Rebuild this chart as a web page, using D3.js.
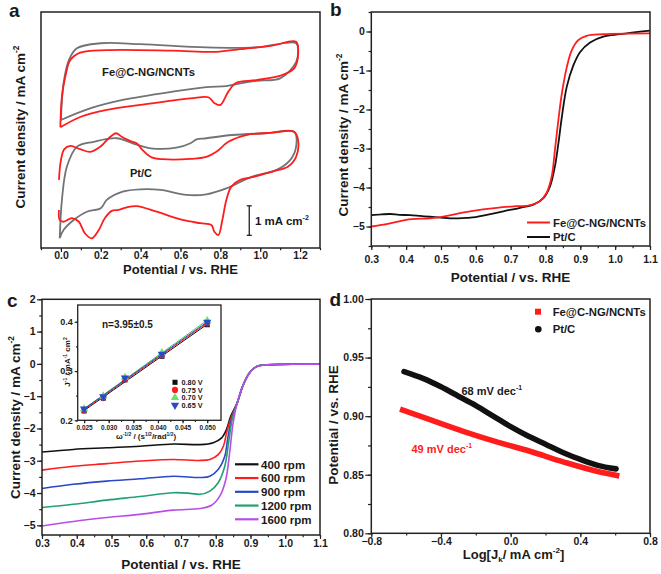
<!DOCTYPE html>
<html><head><meta charset="utf-8">
<script src="https://cdn.jsdelivr.net/npm/d3@7"></script>
<style>
body{margin:0;background:#fff}
text{font-family:"Liberation Sans",Arial,Helvetica,sans-serif;font-weight:bold;fill:#1a1a1a}
</style>
</head><body><script>
// ---------- Panel a: CV curves (potential V, current mA cm-2, arbitrary offset) ----------
const aFeRed = [[-0.003,4.09],[0.005,5.13],[0.022,5.81],[0.047,6.37],[0.097,6.62],[0.23,6.71],[0.56,6.69],[0.78,6.65],[0.90,6.74],[1.06,6.86],[1.18,6.99],[1.19,6.54],[1.17,6.09],[1.11,5.86],[0.98,5.69],[0.88,5.60],[0.84,5.30],[0.80,4.85],[0.77,4.91],[0.74,5.11],[0.65,5.07],[0.40,4.85],[0.23,4.68],[0.10,4.45],[-0.003,4.09]];
const aFeGray = [[0.0,4.34],[0.013,5.58],[0.04,6.37],[0.08,6.77],[0.20,6.94],[0.40,6.91],[0.73,6.80],[0.98,6.80],[1.18,6.94],[1.19,6.71],[1.18,6.30],[1.10,5.75],[0.98,5.67],[0.90,5.58],[0.83,5.49],[0.73,5.45],[0.56,5.30],[0.31,5.02],[0.15,4.74],[0.0,4.34]];
const aPtRed = [[-0.01,2.31],[0.0,2.98],[0.017,3.35],[0.047,3.46],[0.097,3.35],[0.147,3.26],[0.197,3.43],[0.24,3.72],[0.277,3.89],[0.305,3.77],[0.347,3.63],[0.38,3.55],[0.41,3.32],[0.455,3.07],[0.51,3.01],[0.65,3.02],[0.73,3.09],[0.78,3.26],[0.84,3.60],[0.93,3.83],[1.06,3.91],[1.17,3.94],[1.19,3.66],[1.18,3.09],[1.14,2.76],[1.06,2.59],[0.96,2.40],[0.90,2.31],[0.855,2.08],[0.83,1.63],[0.81,0.95],[0.79,0.44],[0.77,0.55],[0.755,0.78],[0.70,0.84],[0.61,0.95],[0.48,1.23],[0.38,1.42],[0.33,1.38],[0.29,1.29],[0.255,1.26],[0.22,1.01],[0.19,0.61],[0.155,0.33],[0.12,0.50],[0.09,0.89],[0.055,1.01],[0.013,0.89],[-0.006,0.95],[-0.01,1.29]];
const aPtGray = [[-0.006,0.33],[0.005,1.63],[0.03,2.76],[0.08,3.43],[0.164,3.60],[0.28,3.72],[0.36,3.55],[0.45,3.38],[0.58,3.40],[0.65,3.55],[0.68,3.68],[0.73,3.72],[0.86,3.83],[1.03,3.89],[1.17,3.94],[1.18,3.43],[1.15,2.98],[1.08,2.64],[0.96,2.42],[0.83,2.02],[0.73,1.82],[0.63,1.80],[0.50,1.97],[0.40,1.99],[0.31,1.91],[0.23,1.63],[0.20,1.35],[0.13,1.23],[0.064,0.95],[0.013,0.61],[-0.006,0.33]];
const aXTicks = [0.0,0.2,0.4,0.6,0.8,1.0,1.2];
const aScaleBar = {x:0.945, y0:0.43, y1:1.43};

// ---------- Panel b: LSV ----------
const bFe = [[0.3,-5.0],[0.344,-4.94],[0.40,-4.83],[0.488,-4.77],[0.583,-4.61],[0.66,-4.52],[0.717,-4.48],[0.755,-4.46],[0.784,-4.35],[0.803,-4.14],[0.818,-3.71],[0.827,-3.04],[0.837,-2.27],[0.847,-1.59],[0.861,-0.92],[0.875,-0.49],[0.894,-0.22],[0.918,-0.11],[0.966,-0.07],[1.1,-0.05]];
const bPt = [[0.3,-4.71],[0.33,-4.69],[0.354,-4.68],[0.38,-4.70],[0.411,-4.71],[0.44,-4.73],[0.468,-4.75],[0.50,-4.77],[0.526,-4.79],[0.55,-4.79],[0.574,-4.78],[0.60,-4.76],[0.621,-4.72],[0.679,-4.61],[0.727,-4.52],[0.765,-4.44],[0.794,-4.27],[0.813,-3.97],[0.827,-3.46],[0.837,-2.87],[0.847,-2.19],[0.861,-1.42],[0.88,-0.87],[0.899,-0.53],[0.928,-0.28],[0.966,-0.13],[1.014,-0.07],[1.1,0.02]];
const bXTicks = [0.3,0.4,0.5,0.6,0.7,0.8,0.9,1.0,1.1];
const bYTicks = [0,-1,-2,-3,-4,-5];

// ---------- Panel c: LSV at rotation rates ----------
const cRpm = ["400 rpm","600 rpm","900 rpm","1200 rpm","1600 rpm"];
const cTail = [[0.862,-1.20],[0.879,-0.65],[0.899,-0.25],[0.918,-0.08],[0.947,-0.03],[1.042,-0.01],[1.1,-0.01]];
const c400 = [[0.3,-2.73],[0.39,-2.65],[0.486,-2.60],[0.582,-2.55],[0.678,-2.48],[0.755,-2.50],[0.793,-2.44],[0.817,-2.29],[0.831,-2.03],[0.843,-1.62]];
const c600 = [[0.3,-3.29],[0.39,-3.17],[0.486,-3.09],[0.582,-3.01],[0.678,-2.96],[0.755,-2.99],[0.783,-2.96],[0.807,-2.81],[0.822,-2.55],[0.831,-2.14],[0.843,-1.70]];
const c900 = [[0.3,-3.86],[0.39,-3.73],[0.486,-3.63],[0.582,-3.56],[0.678,-3.48],[0.755,-3.52],[0.783,-3.48],[0.807,-3.27],[0.826,-2.86],[0.834,-2.34],[0.845,-1.73]];
const c1200 = [[0.3,-4.45],[0.39,-4.35],[0.486,-4.22],[0.582,-4.11],[0.678,-3.99],[0.726,-4.01],[0.755,-4.04],[0.783,-3.94],[0.807,-3.68],[0.826,-3.17],[0.837,-2.44],[0.847,-1.73]];
const c1600 = [[0.3,-5.02],[0.39,-4.88],[0.486,-4.76],[0.582,-4.66],[0.678,-4.53],[0.755,-4.48],[0.788,-4.38],[0.812,-4.09],[0.829,-3.58],[0.840,-2.75],[0.850,-1.83]];
const cYTicks = [2,1,0,-1,-2,-3,-4,-5];

// ---------- Panel c inset: K-L plot ----------
const klX = [0.025,0.0289,0.0333,0.0408,0.050];
const kl080 = [0.219,0.245,0.282,0.330,0.394];
const kl075 = [0.221,0.247,0.284,0.332,0.397];
const kl070 = [0.223,0.249,0.287,0.337,0.402];
const kl065 = [0.223,0.248,0.286,0.334,0.399];
const klLabels = ["0.80 V","0.75 V","0.70 V","0.65 V"];
const klXTicks = [0.025,0.030,0.035,0.040,0.045,0.050];
const klYTicks = [0.2,0.3,0.4];

// ---------- Panel d: Tafel ----------
const dFe = [[-0.635,0.906],[-0.463,0.897],[-0.272,0.887],[-0.08,0.878],[0.111,0.870],[0.302,0.861],[0.494,0.853],[0.624,0.849]];
const dPt = [[-0.612,0.938],[-0.5,0.932],[-0.4,0.925],[-0.3,0.917],[-0.2,0.909],[-0.1,0.900],[0.0,0.891],[0.1,0.883],[0.2,0.876],[0.3,0.869],[0.4,0.863],[0.5,0.858],[0.605,0.855]];
const dXTicks = [-0.8,-0.4,0.0,0.4,0.8];
const dYTicks = [0.80,0.85,0.90,0.95,1.00];

// ================= drawing =================
const RED="#ff1c1c", GRAY="#6f7477", BLK="#111", BLUE="#2a48c8", GREEN="#22a070", VIOL="#b84ee8";
const svg = d3.select("body").append("svg").attr("width",661).attr("height",574);

function panel(xr, yr, xd, yd){
  return {x:d3.scaleLinear().domain(xd).range(xr), y:d3.scaleLinear().domain(yd).range(yr)};
}
function frame(p, sw){
  const [x0,x1]=p.x.range(), [y1,y0]=p.y.range();
  svg.append("rect").attr("x",x0).attr("y",y0).attr("width",x1-x0).attr("height",y1-y0)
    .attr("fill","none").attr("stroke","#222").attr("stroke-width",sw||1.5);
}
function styleAxis(g, fs){
  g.select(".domain").remove();
  g.attr("font-family",null).attr("font-size",null);
  g.selectAll("line").attr("stroke","#222").attr("stroke-width",1.2);
  g.selectAll("text").attr("font-size",fs).attr("fill","#1a1a1a");
}
function xAxis(p, major, minor, fmt, fs, len, pad){
  const yb = p.y.range()[0];
  styleAxis(svg.append("g").attr("transform",`translate(0,${yb})`)
    .call(d3.axisBottom(p.x).tickValues(minor).tickSize(len*0.55).tickFormat("")), fs);
  styleAxis(svg.append("g").attr("transform",`translate(0,${yb})`)
    .call(d3.axisBottom(p.x).tickValues(major).tickSize(len).tickPadding(pad).tickFormat(fmt)), fs);
}
function yAxis(p, major, minor, fmt, fs, len, pad){
  const xl = p.x.range()[0];
  styleAxis(svg.append("g").attr("transform",`translate(${xl},0)`)
    .call(d3.axisLeft(p.y).tickValues(minor).tickSize(len*0.55).tickFormat("")), fs);
  styleAxis(svg.append("g").attr("transform",`translate(${xl},0)`)
    .call(d3.axisLeft(p.y).tickValues(major).tickSize(len).tickPadding(pad).tickFormat(fmt)), fs);
}
function rich(x, y, parts, fs, opts){
  opts = opts||{};
  const t = svg.append("text").attr("x",x).attr("y",y).attr("font-size",fs)
    .attr("text-anchor",opts.anchor||"middle");
  if(opts.rotate) t.attr("transform",`rotate(-90,${x},${y})`);
  if(opts.fill) t.style("fill",opts.fill);
  parts.forEach(([s,k])=>{
    const ts = t.append("tspan").text(s);
    if(k===1) ts.attr("font-size",fs*0.62).attr("baseline-shift","70%");
    if(k===-1) ts.attr("font-size",fs*0.62).attr("baseline-shift","-35%");
  });
  return t;
}
const curve = d3.curveCatmullRom.alpha(0.5);
function drawLine(p, data, color, w, cv){
  svg.append("path").datum(data)
    .attr("d", d3.line().x(d=>p.x(d[0])).y(d=>p.y(d[1])).curve(cv||curve))
    .attr("fill","none").attr("stroke",color).attr("stroke-width",w).attr("stroke-linejoin","round");
}
const range = (a,b,s)=>d3.range(Math.round((b-a)/s)+1).map(i=>+(a+i*s).toFixed(4));
const TF = 10.5, TT = 13.5;

// ---- Panel a ----
const pa = panel([41,320],[248,12],[-0.1,1.3],[0,8]);
drawLine(pa, aFeGray, GRAY, 1.8);
drawLine(pa, aFeRed, RED, 1.8);
drawLine(pa, aPtGray, GRAY, 1.8);
drawLine(pa, aPtRed, RED, 1.8);
frame(pa);
xAxis(pa, aXTicks, range(-0.1,1.3,0.1), d3.format(".1f"), TF, 4, 0);
svg.append("text").attr("x",102).attr("y",75.5).attr("font-size",11.3).text("Fe@C-NG/NCNTs");
svg.append("text").attr("x",130).attr("y",176.5).attr("font-size",11).text("Pt/C");
{
  const sx = pa.x(aScaleBar.x), sy0 = pa.y(aScaleBar.y0), sy1 = pa.y(aScaleBar.y1);
  svg.append("line").attr("x1",sx).attr("x2",sx).attr("y1",sy0).attr("y2",sy1).attr("stroke","#222").attr("stroke-width",1.3);
  [sy0,sy1].forEach(v=>svg.append("line").attr("x1",sx-2.5).attr("x2",sx+2.5).attr("y1",v).attr("y2",v).attr("stroke","#222").attr("stroke-width",1.3));
  rich(255, 224.5, [["1 mA cm",0],["-2",1]], 11.5, {anchor:"start"});
}
rich(180.5, 273.5, [["Potential / vs. RHE",0]], 13);
rich(25, 127, [["Current density / mA cm",0],["-2",1]], TT, {rotate:true});
svg.append("text").attr("x",9).attr("y",17).attr("font-size",19).text("a");

// ---- Panel b ----
const pb = panel([371.3,650],[246,12],[0.3,1.1],[-5.5,0.5]);
drawLine(pb, bPt, BLK, 1.8);
drawLine(pb, bFe, RED, 1.8);
frame(pb);
xAxis(pb, bXTicks, range(0.3,1.1,0.05), d3.format(".1f"), TF, 4, 5.5);
yAxis(pb, bYTicks, range(-5.5,0.5,0.5), d3.format("d"), TF, 5, 1.5);
[[RED,"Fe@C-NG/NCNTs",222.5],[BLK,"Pt/C",237]].forEach(([c,t,yy])=>{
  svg.append("line").attr("x1",527).attr("x2",550).attr("y1",yy).attr("y2",yy).attr("stroke",c).attr("stroke-width",2);
  svg.append("text").attr("x",553).attr("y",yy+4).attr("font-size",11.3).text(t);
});
rich(510.5, 282, [["Potential / vs. RHE",0]], TT);
rich(348, 135, [["Current density / mA cm",0],["-2",1]], TT, {rotate:true});
svg.append("text").attr("x",330).attr("y",16).attr("font-size",19).text("b");

// ---- Panel c ----
const pc = panel([42,320],[535,299.3],[0.3,1.1],[-5.3,2]);
const cSeries = [c400,c600,c900,c1200,c1600];
const cColors = [BLK,RED,BLUE,GREEN,VIOL];
cSeries.forEach((s,i)=>drawLine(pc, s.concat(cTail), cColors[i], 1.6));
frame(pc);
xAxis(pc, bXTicks, range(0.3,1.1,0.05), d3.format(".1f"), TF, 4, 0.5);
yAxis(pc, cYTicks, range(-5,2,0.5), d3.format("d"), TF, 5, 1.5);
cRpm.forEach((t,i)=>{
  const yy = 464.3 + i*13.75;
  svg.append("line").attr("x1",235).attr("x2",258.5).attr("y1",yy).attr("y2",yy).attr("stroke",cColors[i]).attr("stroke-width",2.2);
  svg.append("text").attr("x",261).attr("y",yy+4.2).attr("font-size",11.5).text(t);
});
rich(181, 568.5, [["Potential / vs. RHE",0]], TT);
rich(20, 417.5, [["Current density / mA cm",0],["-2",1]], TT, {rotate:true});
svg.append("text").attr("x",7).attr("y",307).attr("font-size",19).text("c");

// ---- inset ----
const pi = panel([77.7,221],[420.3,305],[0.0237,0.0528],[0.2,0.434]);
svg.append("rect").attr("x",77.7).attr("y",305).attr("width",143.3).attr("height",115.3).attr("fill","#fff");
const klSeries = [kl080,kl075,kl070,kl065];
const klColors = [BLK,RED,"#6fe070",BLUE];
const klLineColors = [BLK,RED,"#3fbf50",BLUE];
const klShapes = [d3.symbolSquare,d3.symbolCircle,d3.symbolTriangle,d3.symbolTriangle];
klSeries.forEach((ys,i)=>{
  const mx = d3.mean(klX), my = d3.mean(ys);
  const b = d3.sum(klX,(v,j)=>(v-mx)*(ys[j]-my))/d3.sum(klX,v=>(v-mx)**2);
  const a0 = my - b*mx;
  svg.append("line").attr("x1",pi.x(0.025)).attr("x2",pi.x(0.050))
    .attr("y1",pi.y(a0+b*0.025)).attr("y2",pi.y(a0+b*0.050))
    .attr("stroke",klLineColors[i]).attr("stroke-width",1);
});
klSeries.forEach((ys,i)=>{
  klX.forEach((xv,j)=>{
    svg.append("path").attr("d",d3.symbol().type(klShapes[i]).size(i===0?26:30)())
      .attr("transform",`translate(${pi.x(xv)},${pi.y(ys[j])})${i===3?" rotate(180)":""}`)
      .attr("fill",klColors[i]);
  });
});
frame(pi, 1.3);
xAxis(pi, klXTicks, range(0.025,0.050,0.0025), d3.format(".3f"), 6.5, 3, 2);
yAxis(pi, klYTicks, range(0.2,0.4,0.05), d3.format(".1f"), 9, 3, 2);
svg.append("text").attr("x",102).attr("y",327.5).attr("font-size",10).text("n=3.95±0.5");
klLabels.forEach((t,i)=>{
  const yy = 382.3 + i*7.6;
  svg.append("path").attr("d",d3.symbol().type(klShapes[i]).size(i===0?26:30)())
    .attr("transform",`translate(175,${yy})${i===3?" rotate(180)":""}`).attr("fill",klColors[i]);
  svg.append("text").attr("x",181.5).attr("y",yy+2.6).attr("font-size",7.3).text(t);
});
rich(146, 438.5, [["ω",0],["-1/2",1],[" / (s",0],["1/2",1],["/rad",0],["1/2",1],[")",0]], 8);
rich(70, 362, [["J",0],["-1",1],[" / mA",0],["-1",1],[" cm",0],["2",1]], 8, {rotate:true});

// ---- Panel d ----
const pd = panel([371.3,650],[533.3,299],[-0.8,0.8],[0.8,1.0]);
const mono = d3.curveMonotoneX;
svg.append("path").datum(dPt).attr("d",d3.line().x(d=>pd.x(d[0])).y(d=>pd.y(d[1])).curve(mono))
  .attr("fill","none").attr("stroke",BLK).attr("stroke-width",5.6).attr("stroke-linecap","round");
svg.append("path").datum(dFe).attr("d",d3.line().x(d=>pd.x(d[0])).y(d=>pd.y(d[1])).curve(mono))
  .attr("fill","none").attr("stroke",RED).attr("stroke-width",5.6).attr("stroke-linecap","butt");
frame(pd);
xAxis(pd, dXTicks, range(-0.8,0.8,0.2), d3.format(".1f"), TF, 4, 0.5);
yAxis(pd, dYTicks, range(0.8,1.0,0.025), d3.format(".2f"), TF, 6, 1.5);
svg.append("rect").attr("x",535).attr("y",308.7).attr("width",6).attr("height",6).attr("fill",RED);
svg.append("circle").attr("cx",538.3).attr("cy",329.3).attr("r",3.3).attr("fill",BLK);
svg.append("text").attr("x",552.7).attr("y",315.5).attr("font-size",11.3).text("Fe@C-NG/NCNTs");
svg.append("text").attr("x",552.7).attr("y",333.3).attr("font-size",11.3).text("Pt/C");
rich(461.5, 395, [["68 mV dec",0],["-1",1]], 11, {anchor:"start"});
rich(411.5, 452.5, [["49 mV dec",0],["-1",1]], 11, {anchor:"start", fill:RED});
rich(513.5, 559, [["Log[J",0],["k",-1],["/ mA cm",0],["-2",1],["]",0]], 13);
rich(338, 425, [["Potential / vs. RHE",0]], TT, {rotate:true});
svg.append("text").attr("x",329.5).attr("y",306).attr("font-size",19).text("d");
</script></body></html>
